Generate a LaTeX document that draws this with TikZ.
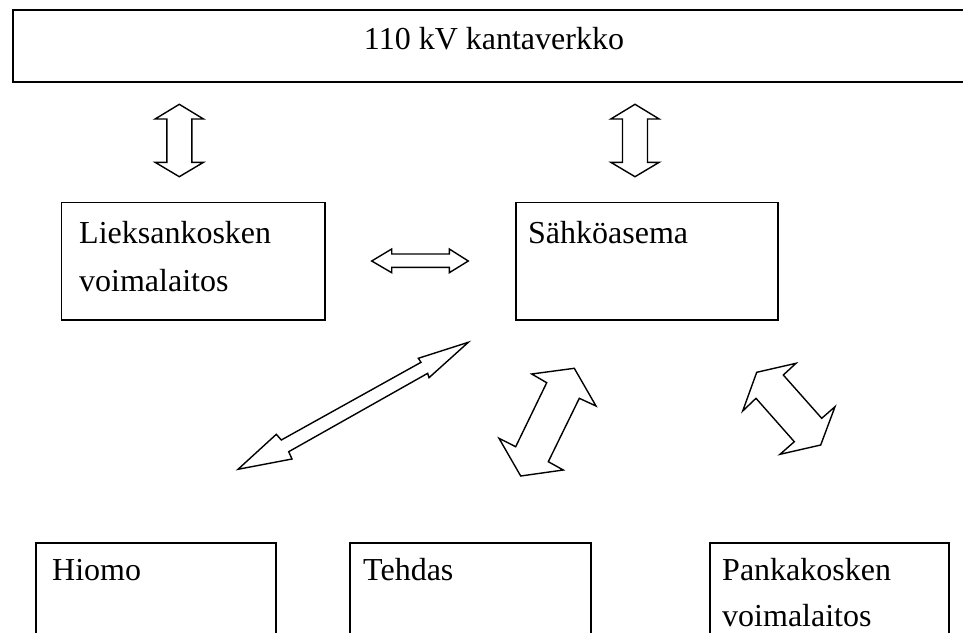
\documentclass[tikz,border=0pt]{standalone}
\usepackage{fontspec}
\setmainfont{Liberation Serif}
\begin{document}
\begin{tikzpicture}[x=1pt,y=-1pt,
  box/.style={draw=black,line width=1.5pt,inner sep=0pt,anchor=north west},
  lbl/.style={anchor=base west,inner sep=0pt,font=\fontsize{32}{48}\selectfont},
  dblarrow/.style={draw=black,line width=1.4pt,line join=miter,fill=white}]
\useasboundingbox (0,0) rectangle (963,632);
% boxes
\node[box,line width=2pt,minimum width=980pt,minimum height=72pt] (grid) at (11.7,9) {};
\node[box,minimum width=263.3pt,minimum height=117.6pt] (lieksa) at (60.7,201.7) {};
\node[box,minimum width=262pt,minimum height=117.6pt] (asema) at (515,201.7) {};
\node[box,minimum width=240pt,minimum height=110pt] (hiomo) at (35,542) {};
\node[box,minimum width=241pt,minimum height=110pt] (tehdas) at (349,542) {};
\node[box,minimum width=239pt,minimum height=110pt] (panka) at (709,542) {};
% texts
\node[anchor=base,inner sep=0pt,font=\fontsize{32}{48}\selectfont] (tgrid) at (494,49) {110 kV kantaverkko};
\node[lbl] (t1) at (79,243.6) {Lieksankosken};
\node[lbl] (t2) at (79,291.6) {voimalaitos};
\node[lbl] (t3) at (528,243.6) {Sähköasema};
\node[lbl] (t4) at (52,580) {Hiomo};
\node[lbl] (t5) at (363,580) {Tehdas};
\node[lbl] (t6) at (722,580) {Pankakosken};
\node[lbl] (t7) at (722,626) {voimalaitos};
% block arrows
\foreach \cx in {179.3,635}{
  \draw[dblarrow] (\cx,104.3) -- (\cx+24.2,119) -- (\cx+12.5,119) -- (\cx+12.5,162.3)
    -- (\cx+24.2,162.3) -- (\cx,176.7) -- (\cx-24.2,162.3) -- (\cx-12.5,162.3)
    -- (\cx-12.5,119) -- (\cx-24.2,119) -- cycle;
}
\draw[dblarrow] (371.7,261) -- (391.7,249) -- (391.7,254) -- (449.3,254) -- (449.3,249)
  -- (468.3,261) -- (449.3,272.7) -- (449.3,267.3) -- (391.7,267.3) -- (391.7,272.7) -- cycle;
\draw[dblarrow] (468.3,342.3) -- (418.3,358.3) -- (421,362.3) -- (281.3,440) -- (276.3,434.3)
  -- (238,469.3) -- (292,459) -- (288.7,451.7) -- (427.7,373.3) -- (429,377.7) -- cycle;
\draw[dblarrow] (574.3,368.3) -- (531.7,374) -- (546.7,382.7) -- (515.7,446.7) -- (499,438.3)
  -- (520.7,476) -- (563.3,470) -- (548.3,461.7) -- (579.3,398.3) -- (596,406) -- cycle;
\draw[dblarrow] (756.7,372.3) -- (796,363.3) -- (783.3,375) -- (821.7,418.3) -- (835,406.7)
  -- (820.7,445) -- (780,454.3) -- (794.3,441.7) -- (756,398.3) -- (742.7,411) -- cycle;
\end{tikzpicture}
\end{document}
